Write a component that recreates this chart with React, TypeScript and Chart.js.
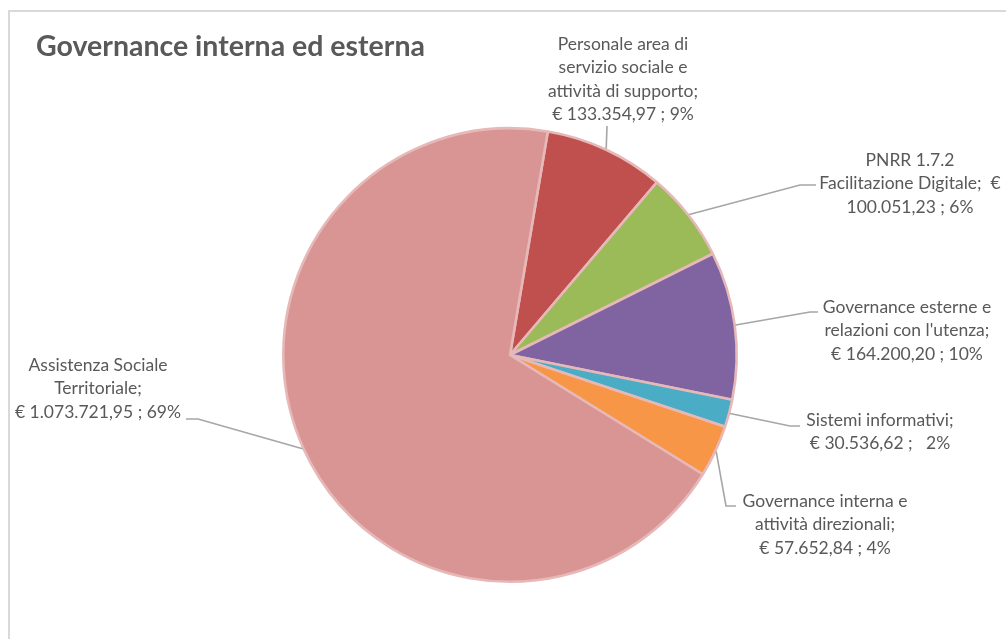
import React, { useEffect, useRef } from "react";
import { Chart, registerables } from "chart.js";

Chart.register(...registerables);

const title = "Governance interna ed esterna";

const categories = [
  "Personale area di servizio sociale e attività di supporto",
  "PNRR 1.7.2 Facilitazione Digitale",
  "Governance esterne e relazioni con l'utenza",
  "Sistemi informativi",
  "Governance interna e attività direzionali",
  "Assistenza Sociale Territoriale",
];

const values = [133354.97, 100051.23, 164200.2, 30536.62, 57652.84, 1073721.95];

const percentLabels = ["9%", "6%", "10%", "2%", "4%", "69%"];

const labelLines = [
  ["Personale area di", "servizio sociale e", "attività di supporto;", "€ 133.354,97 ; 9%"],
  ["PNRR 1.7.2", "Facilitazione Digitale;  €", "100.051,23 ; 6%"],
  ["Governance esterne e", "relazioni con l'utenza;", "€ 164.200,20 ; 10%"],
  ["Sistemi informativi;", "€ 30.536,62 ;   2%"],
  ["Governance interna e", "attività direzionali;", "€ 57.652,84 ; 4%"],
  ["Assistenza Sociale", "Territoriale;", "€ 1.073.721,95 ; 69%"],
];

const colors = ["#C0504D", "#9BBB59", "#8064A2", "#4BACC6", "#F79646", "#D99594"];

// layout of the data labels (style only): text centre x, first line y, elbow and stub end
const labelLayout = [
  { x: 623, y: 44, elbow: [607, 126], end: [607, 126] },
  { x: 910, y: 160, elbow: [800, 185], end: [816, 185] },
  { x: 907, y: 307, elbow: [810, 312], end: [818, 312] },
  { x: 880, y: 420, elbow: [790, 426], end: [800, 426] },
  { x: 825, y: 501, elbow: [726, 506], end: [736, 506] },
  { x: 98, y: 365, elbow: [198, 419], end: [186, 419] },
];

const FONT = "Lato, 'Open Sans', sans-serif";
const TEXT_COLOR = "#595959";

const labelPlugin = {
  id: "outsideLabels",
  afterDraw(chart: any) {
    const ctx = chart.ctx;
    ctx.save();
    // title
    ctx.fillStyle = TEXT_COLOR;
    ctx.font = `bold 28.5px ${FONT}`;
    ctx.textAlign = "left";
    ctx.textBaseline = "middle";
    ctx.fillText(title, 36, 47);

    const meta = chart.getDatasetMeta(0);
    meta.data.forEach((arc: any, i: number) => {
      const p = arc.getProps(["x", "y", "startAngle", "endAngle", "outerRadius"], true);
      const mid = (p.startAngle + p.endAngle) / 2;
      const ax = p.x + Math.cos(mid) * (p.outerRadius + 1);
      const ay = p.y + Math.sin(mid) * (p.outerRadius + 1);
      const L = labelLayout[i];
      ctx.strokeStyle = "#a6a6a6";
      ctx.lineWidth = 1.6;
      ctx.beginPath();
      ctx.moveTo(ax, ay);
      ctx.lineTo(L.elbow[0], L.elbow[1]);
      ctx.lineTo(L.end[0], L.end[1]);
      ctx.stroke();

      ctx.fillStyle = TEXT_COLOR;
      ctx.font = `17.5px ${FONT}`;
      ctx.textAlign = "center";
      ctx.textBaseline = "middle";
      labelLines[i].forEach((line, j) => {
        ctx.fillText(line, L.x, L.y + j * 23.5);
      });
    });
    ctx.restore();
  },
};

export default function App() {
  const ref = useRef<HTMLCanvasElement>(null);
  useEffect(() => {
    if (!ref.current) return;
    const chart = new Chart(ref.current, {
      type: "pie",
      data: {
        labels: categories,
        datasets: [
          {
            data: values,
            backgroundColor: colors,
            borderColor: "#E6B9B8",
            borderWidth: 2.6,
          },
        ],
      },
      options: {
        animation: false,
        responsive: false,
        devicePixelRatio: 1,
        rotation: 9.6,
        layout: { padding: { left: 282, right: 268, top: 127, bottom: 56 } },
        plugins: {
          legend: { display: false },
          tooltip: { enabled: false },
          title: { display: false },
        },
      },
      plugins: [labelPlugin],
    });
    return () => chart.destroy();
  }, []);

  return (
    <div
      style={{
        position: "fixed",
        left: 0,
        top: 0,
        width: 1006,
        height: 639,
        overflow: "hidden",
        background: "#ffffff",
      }}
    >
      <div
        style={{
          position: "absolute",
          left: 8,
          top: 10,
          width: 1100,
          height: 700,
          borderTop: "2px solid #D9D9D9",
          borderLeft: "2px solid #D9D9D9",
        }}
      />
      <canvas
        ref={ref}
        width={1006}
        height={639}
        style={{ position: "absolute", left: 0, top: 0, width: 1006, height: 639 }}
      />
    </div>
  );
}
